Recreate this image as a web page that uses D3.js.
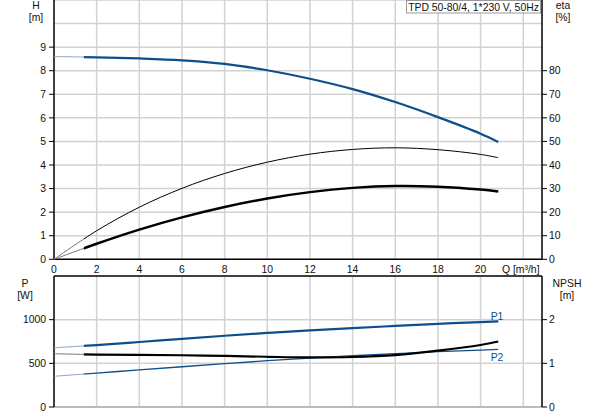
<!DOCTYPE html>
<html>
<head>
<meta charset="utf-8">
<script src="https://cdn.jsdelivr.net/npm/d3@7"></script>
<style>
body { margin: 0; background: #fff; }
text { font-family: "Liberation Sans", Arial, sans-serif; font-size: 10.4px; fill: #111; }
</style>
</head>
<body>
<svg id="chart" width="593" height="415"></svg>
<script>
// flow points [m3/h]
var flow = [0, 2, 4, 6, 8, 10, 12, 14, 16, 18, 20, 20.83];
var headH = [8.6, 8.57, 8.52, 8.44, 8.29, 8.02, 7.66, 7.22, 6.67, 6.03, 5.33, 4.98];
var etaThin = [0, 12.1, 22.1, 30.1, 36.4, 41.2, 44.6, 46.6, 47.3, 46.5, 44.5, 43.1];
var etaThick = [0, 6.6, 12.6, 17.8, 22.2, 25.8, 28.5, 30.3, 31.1, 30.8, 29.6, 28.8];
var powerP1 = [678, 709, 744, 781, 816, 848, 877, 903, 928, 952, 972, 980];
var powerP2 = [352, 388, 425, 461, 496, 530, 560, 587, 611, 633, 652, 659];
var npsh = [1.22, 1.20, 1.195, 1.185, 1.17, 1.15, 1.135, 1.145, 1.19, 1.29, 1.42, 1.50];

var xTicks = [0, 2, 4, 6, 8, 10, 12, 14, 16, 18, 20];
var hTicks = [0, 1, 2, 3, 4, 5, 6, 7, 8, 9];
var etaTicks = [0, 10, 20, 30, 40, 50, 60, 70, 80];
var pTicks = [0, 500, 1000];
var npshTicks = [0, 1, 2];
var title = "TPD 50-80/4, 1*230 V, 50Hz";
var qStart = 1.4; // curves drawn bold from here

var svg = d3.select("#chart");
var left = 54, right = 542;
var gridCol = "#d2d2d2", blue = "#0d4f8b";

var x = d3.scaleLinear().domain([0, 22.88]).range([left, right]);
var yH = d3.scaleLinear().domain([0, 11]).range([259.3, 0]);
var yEta = d3.scaleLinear().domain([0, 110]).range([259.3, 0]);
var yP = d3.scaleLinear().domain([0, 1500]).range([407, 276]);
var yN = d3.scaleLinear().domain([0, 3]).range([407, 276]);

// clip regions: faint start and bold part
var defs = svg.append("defs");
defs.append("clipPath").attr("id", "pre").append("rect")
	.attr("x", 0).attr("y", 0).attr("width", x(qStart)).attr("height", 415);
defs.append("clipPath").attr("id", "main").append("rect")
	.attr("x", x(qStart)).attr("y", 0).attr("width", 593).attr("height", 415);

// ---------- grids ----------
function vGrid(y0, y1)
{
	svg.append("g").selectAll("line").data(d3.range(2, 23, 2)).join("line")
		.attr("x1", d => x(d)).attr("x2", d => x(d))
		.attr("y1", y0).attr("y2", y1)
		.attr("stroke", gridCol).attr("stroke-width", 1.5);
}
vGrid(0, 259.3);
vGrid(276, 407);

svg.append("g").selectAll("line").data(d3.range(1, 12)).join("line")
	.attr("x1", left).attr("x2", right)
	.attr("y1", d => yH(d)).attr("y2", d => yH(d))
	.attr("stroke", gridCol).attr("stroke-width", 1.5);
svg.append("g").selectAll("line").data([0, 500, 1000]).join("line")
	.attr("x1", left).attr("x2", right)
	.attr("y1", d => yP(d)).attr("y2", d => yP(d))
	.attr("stroke", d => d == 0 ? "#bbb" : gridCol).attr("stroke-width", d => d == 0 ? 2 : 1.5);

// ---------- axes ----------
function axisLine(x1, y1, x2, y2)
{
	svg.append("line").attr("x1", x1).attr("y1", y1).attr("x2", x2).attr("y2", y2)
		.attr("stroke", "#000").attr("stroke-width", 1.5);
}
axisLine(left, 0, left, 259.3);
axisLine(right, 0, right, 259.3);
axisLine(left, 259.3, right, 259.3);
axisLine(left, 276, right, 276);
axisLine(left, 276, left, 407);
axisLine(right, 276, right, 407);

function leftTicks(scale, ticks)
{
	var g = svg.append("g");
	g.selectAll("line").data(ticks).join("line")
		.attr("x1", left - 5).attr("x2", left)
		.attr("y1", d => scale(d)).attr("y2", d => scale(d))
		.attr("stroke", "#000");
	g.selectAll("text").data(ticks).join("text")
		.attr("x", left - 8).attr("y", d => scale(d)).attr("dy", "0.35em")
		.attr("text-anchor", "end").text(d => d);
}
function rightTicks(scale, ticks)
{
	var g = svg.append("g");
	g.selectAll("line").data(ticks).join("line")
		.attr("x1", right).attr("x2", right + 5)
		.attr("y1", d => scale(d)).attr("y2", d => scale(d))
		.attr("stroke", "#000");
	g.selectAll("text").data(ticks).join("text")
		.attr("x", right + 7).attr("y", d => scale(d)).attr("dy", "0.35em")
		.text(d => d);
}
leftTicks(yH, hTicks);
rightTicks(yEta, etaTicks);
leftTicks(yP, pTicks);
rightTicks(yN, npshTicks);

svg.append("g").selectAll("text").data(xTicks).join("text")
	.attr("x", d => x(d)).attr("y", 269).attr("dy", "0.35em")
	.attr("text-anchor", "middle").text(d => d);
svg.append("text").attr("x", 502).attr("y", 269).attr("dy", "0.35em").text("Q [m³/h]");

// axis titles
function label(tx, ty, s)
{
	svg.append("text").attr("x", tx).attr("y", ty).attr("dy", "0.35em")
		.attr("text-anchor", "middle").text(s);
}
label(36, 5, "H"); label(36, 17, "[m]");
label(563, 5, "eta"); label(563, 17, "[%]");
label(25, 283, "P"); label(25, 295, "[W]");
label(567, 283, "NPSH"); label(567, 295, "[m]");

// title box
svg.append("rect").attr("x", 406.5).attr("y", 0.5).attr("width", 134).attr("height", 12.5)
	.attr("fill", "#fff").attr("stroke", "#999");
svg.append("text").attr("x", 473.5).attr("y", 7).attr("dy", "0.35em")
	.attr("text-anchor", "middle").text(title);

// ---------- curves ----------
function curve(vals, scale, col, w, preCol)
{
	var pts = flow.map((q, i) => [q, vals[i]]);
	var line = d3.line().x(d => x(d[0])).y(d => scale(d[1])).curve(d3.curveCatmullRom.alpha(0.5));
	svg.append("path").datum(pts).attr("d", line).attr("clip-path", "url(#pre)")
		.attr("fill", "none").attr("stroke", preCol).attr("stroke-width", 1);
	svg.append("path").datum(pts).attr("d", line).attr("clip-path", "url(#main)")
		.attr("fill", "none").attr("stroke", col).attr("stroke-width", w);
}
curve(headH, yH, blue, 2.2, "#8fa3bd");
curve(etaThin, yEta, "#000", 1, "#777");
curve(etaThick, yEta, "#000", 2.5, "#777");
curve(powerP1, yP, blue, 2.2, "#8fa3bd");
curve(powerP2, yP, blue, 1.3, "#8fa3bd");
curve(npsh, yN, "#000", 2.2, "#777");

svg.append("text").attr("x", 497).attr("y", 316).attr("dy", "0.35em")
	.attr("text-anchor", "middle").style("fill", blue).text("P1");
svg.append("text").attr("x", 497).attr("y", 357).attr("dy", "0.35em")
	.attr("text-anchor", "middle").style("fill", blue).text("P2");
</script>
</body>
</html>
